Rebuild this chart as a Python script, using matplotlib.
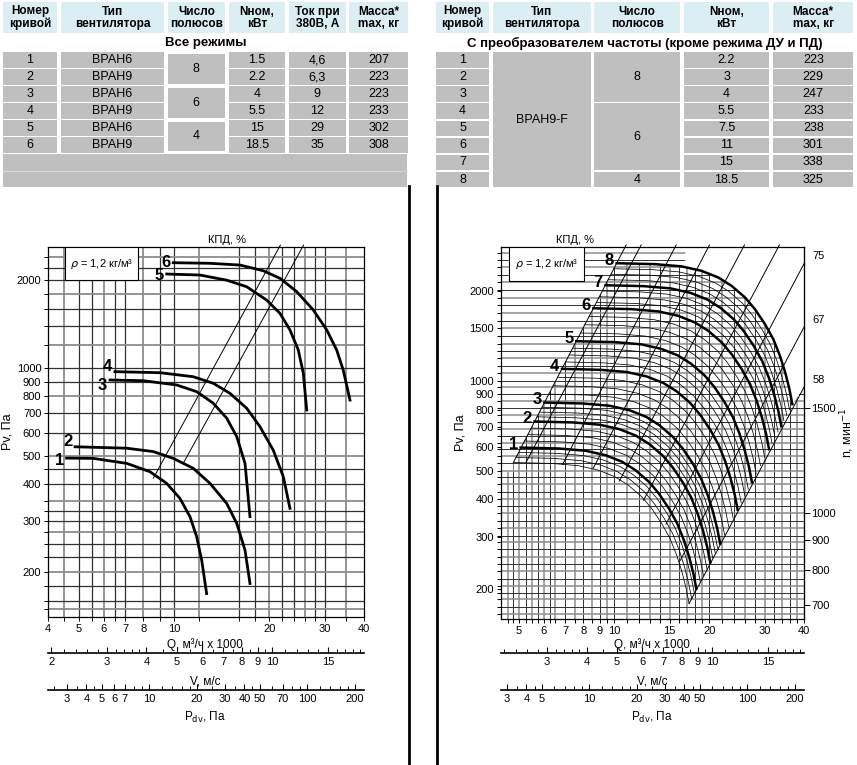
import numpy as np
import matplotlib.pyplot as plt
import matplotlib.ticker as mticker
from matplotlib.patches import Rectangle, Polygon
from matplotlib.collections import LineCollection
from matplotlib.lines import Line2D

plt.rcParams['font.family'] = ['Liberation Sans Narrow', 'Liberation Sans', 'DejaVu Sans']

# ---------------- table data ----------------
head_l = ['Номер\nкривой', 'Тип\nвентилятора', 'Число\nполюсов', 'Nном,\nкВт', 'Ток при\n380В, А', 'Масса*\nmax, кг']
t1_curve = ['1', '2', '3', '4', '5', '6']
t1_type = ['ВРАН6', 'ВРАН9', 'ВРАН6', 'ВРАН9', 'ВРАН6', 'ВРАН9']
t1_poles = ['8', '6', '4']
t1_power = ['1.5', '2.2', '4', '5.5', '15', '18.5']
t1_current = ['4,6', '6,3', '9', '12', '29', '35']
t1_mass = ['207', '223', '223', '233', '302', '308']

head_r = ['Номер\nкривой', 'Тип\nвентилятора', 'Число\nполюсов', 'Nном,\nкВт', 'Масса*\nmax, кг']
t2_curve = ['1', '2', '3', '4', '5', '6', '7', '8']
t2_type = 'ВРАН9-F'
t2_poles = [('8', 0, 2), ('6', 3, 6), ('4', 7, 7)]
t2_power = ['2.2', '3', '4', '5.5', '7.5', '11', '15', '18.5']
t2_mass = ['223', '229', '247', '233', '238', '301', '338', '325']

# ---------------- left chart data (Q, 1000 m3/h ; Pv, Pa) ----------------
l_curves_q = [
    [4.57, 5.55, 7.08, 8.39, 9.48, 10.44, 11.23, 11.79, 12.23, 12.68],
    [4.86, 7.08, 8.6, 9.94, 11.5, 13.0, 14.68, 15.79, 16.77, 17.39],
    [6.27, 7.99, 10.19, 11.79, 13.3, 14.68, 15.79, 16.77, 17.39],
    [6.5, 9.03, 11.5, 13.3, 15.03, 16.98, 18.71, 20.6, 22.17, 23.27],
    [9.48, 12.08, 14.68, 16.98, 19.64, 21.64, 23.27, 24.72, 25.65, 26.29],
    [9.94, 13.0, 16.17, 19.15, 21.64, 24.44, 27.59, 30.42, 32.7, 34.3, 36.04],
]
l_curves_p = [
    [492, 491, 472, 442, 403, 358, 310, 265, 220, 169],
    [538, 532, 518, 491, 454, 403, 344, 294, 238, 183],
    [911, 906, 876, 831, 759, 674, 583, 472, 310],
    [973, 965, 935, 888, 820, 729, 630, 524, 425, 331],
    [2102, 2085, 2002, 1901, 1711, 1541, 1352, 1155, 961, 719],
    [2298, 2287, 2256, 2157, 2032, 1829, 1582, 1352, 1155, 986, 778],
]
l_curve_labels = ['1', '2', '3', '4', '5', '6']
l_label_dy = [-2, 4, -4, 4, -1, 0]
l_eff_q = [[8.6, 21.7], [10.69, 25.7]]
l_eff_p = [[420, 2640], [472, 2640]]
l_eff_labels = ['80', '82']
l_grid_q = [4.5, 5, 5.5, 6, 6.5, 7, 8, 9, 10, 12, 16, 18, 20, 22, 24, 26, 28, 30, 35]
l_grid_p = [150, 160, 180, 200, 225, 250, 275, 300, 325, 350, 400, 450, 500, 600, 700,
            800, 900, 1000, 1200, 1400, 1600, 1800, 2000, 2200, 2400]
l_q_ticks = [4, 5, 6, 7, 8, 10, 20, 30, 40]
l_p_ticks = [200, 300, 400, 500, 600, 700, 800, 900, 1000, 2000]

# ---------------- right chart data ----------------
# normalised shape of one characteristic (Q/Q0, P/P0)
shape_q = np.array([1.0, 1.322, 1.605, 1.856, 2.097, 2.310, 2.548, 2.740, 2.947, 3.133, 3.288,
                    3.414, 3.521, 3.598])
shape_p = np.array([1.0, 0.993, 0.976, 0.943, 0.896, 0.840, 0.768, 0.701, 0.625, 0.556, 0.489,
                    0.431, 0.379, 0.337])
# start points of every characteristic (numbered ones are bold)
r_start_q = [4.80, 4.89, 4.99, 5.06, 5.21, 5.33, 5.47, 5.60, 5.70, 5.81, 5.91, 6.02, 6.22, 6.41,
             6.62, 6.84, 7.02, 7.21, 7.39, 7.59, 7.83, 8.08, 8.33, 8.60, 8.79, 8.98, 9.18, 9.40,
             9.58, 9.78, 9.98, 10.19]
r_start_p = [532, 553, 575, 597, 628, 660, 694, 730, 757, 785, 815, 845, 902, 962, 1027, 1096,
             1156, 1220, 1286, 1357, 1446, 1541, 1642, 1750, 1829, 1912, 1999, 2090, 2181, 2275,
             2374, 2477]
r_bold = ['', '', '', '1', '', '', '', '2', '', '', '', '3', '', '', '', '4', '', '', '', '5',
          '', '', '', '6', '', '', '', '7', '', '', '', '8']
# efficiency lines: bottom (Q, P) -> top (Q, P)
r_eff_q = [[4.80, 10.92], [5.26, 12.18], [6.88, 15.72], [8.59, 20.04], [10.4, 25.86], [12.4, 33.37],
           [14.6, 40], [16.2, 40], [17.27, 40]]
r_eff_p = [[532, 2852], [532, 2852], [525, 2852], [509, 2852], [462, 2852], [398, 2852],
           [331, 2477], [250, 1519], [179, 956]]
r_eff_labels = ['64', '67', '75', '80', '82,3', '80', '75', '67', '58']
r_grid_q = [4.6, 4.8, 5, 5.25, 5.5, 5.75, 6, 6.25, 6.5, 7, 7.5, 8, 8.5, 9, 9.5, 10, 11, 12, 13, 14,
            15, 16, 17, 18, 19, 20, 22, 24, 26, 28, 30, 32, 34, 36, 38]
r_grid_p = [165, 175, 185, 195, 205, 217, 230, 243, 257, 272, 287, 302, 320, 340, 360, 380, 400,
            425, 450, 475, 500, 530, 560, 590, 620, 655, 690, 730, 770, 810, 855, 900, 950, 1000,
            1060, 1120, 1190, 1260, 1330, 1410, 1500, 1590, 1690, 1790, 1900, 2020, 2140, 2270,
            2400, 2540, 2680]
r_q_ticks = [5, 6, 7, 8, 9, 10, 15, 20, 30, 40]
r_p_ticks = [200, 300, 400, 500, 600, 700, 800, 900, 1000, 1500, 2000]
n_ticks = [700, 800, 900, 1000, 1500]
n_ref, p_ref = 1500, 813   # n = 1500 1/min at Pv = 813 Pa on the right scale

# secondary scales
v_per_q = 1 / 2.045          # V, m/s per 1000 m3/h
pdv_per_v2 = 0.6             # Pdv = rho/2 * V^2
l_v_ticks = [2, 3, 4, 5, 6, 7, 8, 9, 10, 15]
r_v_ticks = [3, 4, 5, 6, 7, 8, 9, 10, 15]
v_minor = [2.2, 2.4, 2.6, 2.8, 3.2, 3.4, 3.6, 3.8, 4.5, 5.5, 6.5, 7.5, 8.5, 9.5, 11, 12, 13, 14,
           16, 17, 18, 19]
l_pdv_ticks = [3, 4, 5, 6, 7, 10, 20, 30, 40, 50, 70, 100, 200]
r_pdv_ticks = [3, 4, 5, 10, 20, 30, 40, 50, 100, 200]
pdv_minor = [2.5, 3.5, 4.5, 6, 7, 8, 9, 12, 14, 16, 18, 25, 35, 45, 60, 70, 80, 90, 120, 140,
             160, 180]

W, H = 857, 765
fig = plt.figure(figsize=(W / 100, H / 100), dpi=100)


def fx(px):
    return px / W


def fy(py):
    return 1 - py / H


HEAD_BG = '#daeef3'
CELL_BG = '#bfbfbf'


def cell(x0, x1, y0, y1, color, text='', **kw):
    fig.add_artist(Rectangle((fx(x0), fy(y1)), (x1 - x0) / W, (y1 - y0) / H,
                             transform=fig.transFigure, facecolor=color, edgecolor='none'))
    if text:
        fig.text(fx((x0 + x1) / 2), fy((y0 + y1) / 2), text, ha='center', va='center', **kw)


# ---------------- tables ----------------
cols_l = [(2.7, 57.3), (61, 164), (167.7, 225), (229, 285), (288.7, 345.7), (349.3, 408.3)]
cols_r = [(436, 489), (492.7, 590.7), (594.3, 680), (684, 769), (773.3, 853.3)]
hkw = dict(fontsize=8.5, fontweight='bold', linespacing=1.05)
dkw = dict(fontsize=9)
for (x0, x1), h in zip(cols_l, head_l):
    cell(x0, x1, 2.3, 33.3, HEAD_BG, h, **hkw)
for (x0, x1), h in zip(cols_r, head_r):
    cell(x0, x1, 2.3, 33.3, HEAD_BG, h, **hkw)
fig.text(fx(205.5), fy(43), 'Все режимы', ha='center', va='center', fontsize=9.5, fontweight='bold')
fig.text(fx(645), fy(43), 'С преобразователем частоты (кроме режима ДУ и ПД)',
         ha='center', va='center', fontsize=9.5, fontweight='bold')

rt_l = lambda i: 52.3 + 16.93 * i
for i in range(6):
    for c, vals in zip([0, 1, 3, 4, 5], [t1_curve, t1_type, t1_power, t1_current, t1_mass]):
        cell(cols_l[c][0], cols_l[c][1], rt_l(i), rt_l(i) + 15.8, CELL_BG, vals[i], **dkw)
for k, txt in enumerate(t1_poles):
    cell(cols_l[2][0], cols_l[2][1], rt_l(2 * k) + 1.5, rt_l(2 * k + 1) + 14.5, CELL_BG, txt, **dkw)
cell(2.7, 407.3, 154.3, 186.7, CELL_BG)
fig.add_artist(Line2D([fx(2.7), fx(407.3)], [fy(170.5), fy(170.5)], color='#d9d9d9', lw=0.8))

rt_r = lambda i: 52.3 + 17.06 * i
for i in range(8):
    for c, vals in zip([0, 3, 4], [t2_curve, t2_power, t2_mass]):
        cell(cols_r[c][0], cols_r[c][1], rt_r(i), rt_r(i) + 15.6, CELL_BG, vals[i], **dkw)
cell(cols_r[1][0], cols_r[1][1], rt_r(0), rt_r(7) + 15.6, CELL_BG, t2_type, **dkw)
for txt, a, b in t2_poles:
    cell(cols_r[2][0], cols_r[2][1], rt_r(a), rt_r(b) + 15.6, CELL_BG, txt, **dkw)

# separators
for xs in (408.5, 436.5):
    fig.add_artist(Line2D([fx(xs), fx(xs)], [fy(186), fy(765)], color='black', lw=2))

GRID = '#303030'
GRID2 = '#8c8c8c'
tick_kw = dict(direction='out', length=3, width=0.7, labelsize=8, pad=2)


def style_main(ax, qt, pt, grid_q, grid_p):
    ax.set_xscale('log')
    ax.set_yscale('log')
    ax.set_xticks(qt, [str(v) for v in qt])
    ax.set_xticks(grid_q, minor=True)
    ax.set_yticks(pt, [str(v) for v in pt])
    ax.set_yticks(grid_p, minor=True)
    ax.xaxis.set_minor_formatter(mticker.NullFormatter())
    ax.yaxis.set_minor_formatter(mticker.NullFormatter())
    ax.tick_params(which='both', **tick_kw)
    for s in ax.spines.values():
        s.set_linewidth(0.9)


# ---------------- left chart ----------------
ax1 = fig.add_axes([fx(48.3), fy(617), (364.3 - 48.3) / W, (617 - 247.3) / H])
style_main(ax1, l_q_ticks, l_p_ticks, l_grid_q, l_grid_p)
ax1.set_xlim(4, 40)
ax1.set_ylim(140.5, 2595)
for i, q in enumerate(l_grid_q):
    ax1.axvline(q, color=GRID if i % 3 else GRID2, lw=0.9 if i % 3 else 1.3, zorder=1)
for i, p in enumerate(l_grid_p):
    ax1.axhline(p, color=GRID if i % 3 else GRID2, lw=0.9 if i % 3 else 1.3, zorder=1)
for q, p, lab, dy in zip(l_curves_q, l_curves_p, l_curve_labels, l_label_dy):
    ax1.plot(q, p, color='black', lw=2, zorder=3, solid_joinstyle='round')
    ax1.annotate(lab, (q[0], p[0]), xytext=(-2, dy), textcoords='offset points', ha='right',
                 va='center', fontsize=12, fontweight='bold', zorder=5)
for q, p, lab in zip(l_eff_q, l_eff_p, l_eff_labels):
    ax1.plot(q, p, color='black', lw=0.7, zorder=2, clip_on=False)
    ax1.annotate(lab, (q[1], p[1]), xytext=(1, 6), textcoords='offset points', ha='center',
                 va='center', fontsize=8)
ax1.text(0.565, 1.02, 'КПД, %', transform=ax1.transAxes, ha='center', va='center', fontsize=8)
ax1.add_patch(Rectangle((0.053, 0.9115), 0.231, 0.0885, transform=ax1.transAxes,
                        facecolor='white', edgecolor='black', lw=0.8, zorder=4))
ax1.text(0.1685, 0.956, r'$\rho$ = 1,2 кг/м³', transform=ax1.transAxes, ha='center',
         va='center', fontsize=8, zorder=5)
ax1.set_ylabel('Pv, Па', fontsize=9, labelpad=2)

# ---------------- right chart ----------------
ax2 = fig.add_axes([fx(501), fy(619), (804.3 - 501) / W, (619 - 247.3) / H])
style_main(ax2, r_q_ticks, r_p_ticks, r_grid_q, r_grid_p)
xmin, xmax, ymin, ymax = 4.386, 40, 159, 2801
ax2.set_xlim(xmin, xmax)
ax2.set_ylim(ymin, ymax)

c8_q = r_start_q[-1] * shape_q
c8_p = r_start_p[-1] * shape_p
env = list(zip(c8_q, c8_p)) + [(xmax, r_eff_p[-1][1]), (xmax, ymin)]
vert_poly = Polygon([(xmin, ymin), (xmin, 495), (r_start_q[0], 495), (r_start_q[0], r_start_p[0])] + env,
                    closed=True, transform=ax2.transData)
hor_poly = Polygon([(xmin, ymin), (xmin, ymax), (16.8, ymax), (16.8, c8_p[2])] + env[3:],
                   closed=True, transform=ax2.transData)
for k, (grid, seg) in enumerate([(r_grid_q, lambda q: [(q, ymin), (q, ymax)]),
                                 (r_grid_p, lambda p: [(xmin, p), (xmax, p)])]):
    for parity, col, lw in [(0, GRID2, 1.1), (1, GRID, 0.7)]:
        lc = LineCollection([seg(v) for i, v in enumerate(grid) if i % 2 == parity],
                            colors=col, linewidths=lw, zorder=1)
        ax2.add_collection(lc)
        lc.set_clip_path(vert_poly if k == 0 else hor_poly)

for q0, p0, lab in zip(r_start_q, r_start_p, r_bold):
    ax2.plot(q0 * shape_q, p0 * shape_p, color='black', lw=1.8 if lab else 0.55, zorder=3,
             solid_joinstyle='round')
    if lab:
        ax2.annotate(lab, (q0, p0), xytext=(-2, 2), textcoords='offset points', ha='right',
                     va='center', fontsize=12, fontweight='bold', zorder=5)
for i, (q, p, lab) in enumerate(zip(r_eff_q, r_eff_p, r_eff_labels)):
    ax2.plot(q, p, color='black', lw=0.7, zorder=2, clip_on=False)
    if q[1] < xmax:
        ax2.annotate(lab, (q[1], p[1]), xytext=(2, 4), textcoords='offset points', ha='center',
                     va='center', fontsize=8)
    else:
        ax2.annotate(lab, (q[1], p[1]), xytext=(6, 5), textcoords='offset points', ha='left',
                     va='center', fontsize=8)
ax2.text(0.244, 1.02, 'КПД, %', transform=ax2.transAxes, ha='center', va='center', fontsize=8)
ax2.add_patch(Rectangle((0.027, 0.910), 0.247, 0.09, transform=ax2.transAxes,
                        facecolor='white', edgecolor='black', lw=0.8, zorder=4))
ax2.text(0.1505, 0.955, r'$\rho$ = 1,2 кг/м³', transform=ax2.transAxes, ha='center',
         va='center', fontsize=8, zorder=5)
ax2.set_ylabel('Pv, Па', fontsize=9, labelpad=2)

sec = ax2.secondary_yaxis('right', functions=(lambda p: n_ref * np.sqrt(np.clip(p, 1e-9, None) / p_ref),
                                              lambda n: p_ref * (n / n_ref) ** 2))
sec.set_yticks(n_ticks, [str(v) for v in n_ticks])
sec.yaxis.set_minor_locator(mticker.NullLocator())
sec.tick_params(direction='out', length=4, width=0.7, labelsize=8, pad=1)
fig.text(fx(847), fy(433), 'n, мин$^{-1}$', rotation=90, ha='center', va='center', fontsize=9)


# ---------------- V and Pdv scales ----------------
def scale_axis(y_px, x0_px, x1_px, lims, major, minor):
    a = fig.add_axes([fx(x0_px), fy(y_px), (x1_px - x0_px) / W, 0.0001])
    a.set_xscale('log')
    a.set_xlim(*lims)
    a.set_xticks(major, [str(v) for v in major])
    a.set_xticks([m for m in minor if lims[0] <= m <= lims[1]], minor=True)
    a.xaxis.set_minor_formatter(mticker.NullFormatter())
    a.tick_params(axis='x', which='major', direction='in', length=4, width=0.8, labelsize=8, pad=3)
    a.tick_params(axis='x', which='minor', direction='in', length=3, width=0.7)
    for s in ('left', 'right', 'top'):
        a.spines[s].set_visible(False)
    a.spines['bottom'].set_linewidth(1.2)
    a.set_yticks([])
    a.patch.set_visible(False)
    return a


for (x0, x1, qlo), vt, pt, cx in [((48.3, 364.3, 4.0), l_v_ticks, l_pdv_ticks, 205),
                                  ((501, 804.3, xmin), r_v_ticks, r_pdv_ticks, 652)]:
    vlo, vhi = qlo * v_per_q, 40 * v_per_q
    scale_axis(652.7, x0, x1, (vlo, vhi), vt, v_minor)
    scale_axis(689.5, x0, x1, (pdv_per_v2 * vlo ** 2, pdv_per_v2 * vhi ** 2), pt, pdv_minor)
    fig.text(fx(cx), fy(645), 'Q, м³/ч x 1000', ha='center', va='center', fontsize=8.5)
    fig.text(fx(cx), fy(681), 'V, м/с', ha='center', va='center', fontsize=8.5)
    fig.text(fx(cx), fy(717), r'P$_{\rm dv}$, Па', ha='center', va='center', fontsize=8.5)

fig.savefig('out.png', dpi=100)
